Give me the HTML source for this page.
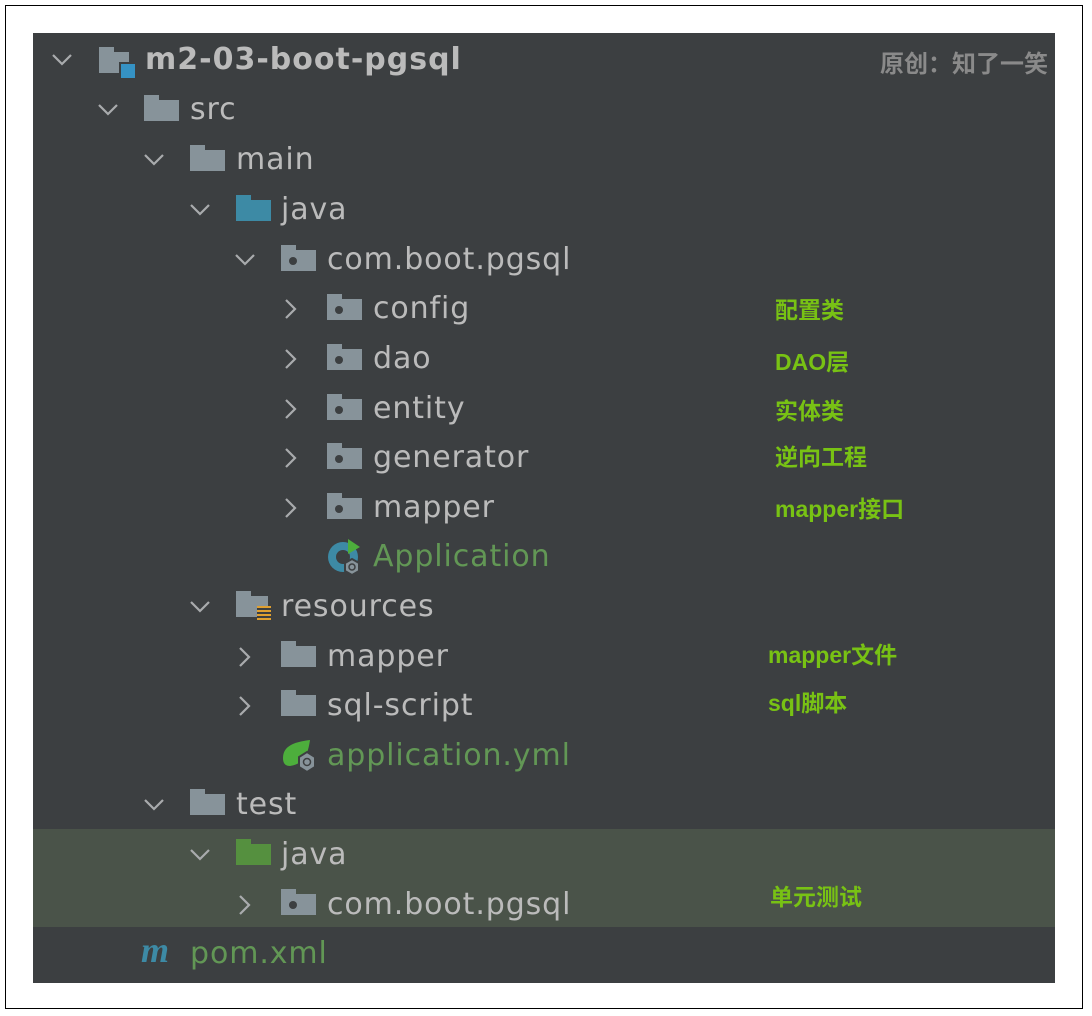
<!DOCTYPE html>
<html><head><meta charset="utf-8"><style>
body{margin:0;width:1092px;height:1016px;background:#fff;position:relative;overflow:hidden;font-family:"DejaVu Sans","Liberation Sans",sans-serif}
.frame{position:absolute;left:5px;top:5px;width:1078px;height:1004px;border:1.5px solid #000;box-sizing:border-box}
.panel{position:absolute;left:33px;top:33px;width:1022px;height:950px;background:#3c3f41}
.hl{position:absolute;left:33px;top:829px;width:1022px;height:98px;background:#4a5349}
.t{position:absolute;font-size:30px;color:#bbbbbb;line-height:40px;white-space:nowrap;letter-spacing:0.9px}
.g{color:#629755}
.f{position:absolute;width:35px;height:21px;background:#87939a}
.f:before{content:"";position:absolute;left:0;top:-5px;width:15px;height:6px;background:inherit}
.f.dot:after{content:"";position:absolute;left:8px;top:7px;width:8px;height:8px;border-radius:50%;background:#3c3f41}
.a{position:absolute;font-size:23px;font-weight:bold;color:#78c214;line-height:26px;font-family:"Liberation Sans","Noto Sans CJK SC",sans-serif;white-space:nowrap}
</style></head><body>
<div class="frame"></div>
<div class="panel"></div>
<div class="hl"></div>

<svg width="1092" height="1016" style="position:absolute;left:0;top:0" fill="none" stroke="#a9abad" stroke-width="2.2">
<polyline points="53,55 62,64 71,55"/>
<polyline points="99,105 108,114 117,105"/>
<polyline points="145,155 154,164 163,155"/>
<polyline points="191,205 200,214 209,205"/>
<polyline points="236,255 245,264 254,255"/>
<polyline points="191,602 200,611 209,602"/>
<polyline points="145,800 154,809 163,800"/>
<polyline points="191,850 200,859 209,850"/>
<polyline points="286,300 295,309 286,318"/>
<polyline points="286,350 295,359 286,368"/>
<polyline points="286,400 295,409 286,418"/>
<polyline points="286,449 295,458 286,467"/>
<polyline points="286,499 295,508 286,517"/>
<polyline points="240,648 249,657 240,666"/>
<polyline points="240,697 249,706 240,715"/>
<polyline points="240,896 249,905 240,914"/>
</svg>

<div class="f" style="left:99px;top:52px;width:30px"></div>
<div style="position:absolute;left:119px;top:62px;width:14px;height:14px;background:#3592c4;border:2px solid #3c3f41"></div>
<div class="t" style="left:145px;top:40px;font-weight:bold;letter-spacing:1px">m2-03-boot-pgsql</div>
<div style="position:absolute;left:880px;top:44px;font-size:24px;font-weight:bold;color:#8a8a8a;font-family:'Liberation Sans','Noto Sans CJK SC',sans-serif">原创：知了一笑</div>

<div class="f" style="left:144px;top:100px"></div>
<div class="t" style="left:190px;top:90px">src</div>

<div class="f" style="left:190px;top:150px"></div>
<div class="t" style="left:236px;top:140px">main</div>

<div class="f" style="left:236px;top:200px;background:#3d8aa5"></div>
<div class="t" style="left:281px;top:190px">java</div>

<div class="f dot" style="left:281px;top:250px"></div>
<div class="t" style="left:327px;top:240px">com.boot.pgsql</div>

<div class="f dot" style="left:327px;top:299px"></div>
<div class="t" style="left:373px;top:289px">config</div>
<div class="f dot" style="left:327px;top:349px"></div>
<div class="t" style="left:373px;top:339px">dao</div>
<div class="f dot" style="left:327px;top:399px"></div>
<div class="t" style="left:373px;top:389px">entity</div>
<div class="f dot" style="left:327px;top:448px"></div>
<div class="t" style="left:373px;top:438px">generator</div>
<div class="f dot" style="left:327px;top:498px"></div>
<div class="t" style="left:373px;top:488px">mapper</div>

<svg style="position:absolute;left:326px;top:535px" width="40" height="42">
<circle cx="17" cy="22" r="15" fill="#3d8aa5"/>
<circle cx="17" cy="22" r="7" fill="#3c3f41"/>
<polygon points="22,4 34,12 22,19" fill="#4dae3c"/>
<polygon points="26,24 33,28 33,36 26,40 19,36 19,28" fill="#87939a" stroke="#3c3f41" stroke-width="2"/>
<circle cx="26" cy="32" r="3" fill="none" stroke="#3c3f41" stroke-width="1.5"/>
</svg>
<div class="t g" style="left:373px;top:537px">Application</div>

<div class="f" style="left:236px;top:596px;width:32px"></div>
<div style="position:absolute;left:257px;top:606px;width:14px;height:16px;background:repeating-linear-gradient(#e0a030 0 2px,#3c3f41 2px 4px)"></div>
<div class="t" style="left:281px;top:587px">resources</div>

<div class="f" style="left:281px;top:646px"></div>
<div class="t" style="left:327px;top:637px">mapper</div>
<div class="f" style="left:281px;top:695px"></div>
<div class="t" style="left:327px;top:686px">sql-script</div>

<svg style="position:absolute;left:280px;top:736px" width="40" height="40">
<path d="M3,22 C3,10 14,6 30,4 C28,18 24,28 10,30 C5,30 3,27 3,22Z" fill="#4dae3c"/>
<polygon points="27,16 35,21 35,31 27,36 19,31 19,21" fill="#87939a" stroke="#3c3f41" stroke-width="2"/>
<circle cx="27" cy="26" r="3.5" fill="none" stroke="#3c3f41" stroke-width="1.5"/>
</svg>
<div class="t g" style="left:327px;top:736px">application.yml</div>

<div class="f" style="left:190px;top:794px"></div>
<div class="t" style="left:236px;top:785px">test</div>

<div class="f" style="left:236px;top:844px;background:#55903f"></div>
<div class="t" style="left:281px;top:835px">java</div>

<div class="f dot" style="left:281px;top:894px"></div>
<div class="t" style="left:327px;top:885px">com.boot.pgsql</div>

<div style="position:absolute;left:141px;top:930px;font-size:36px;font-weight:bold;font-style:italic;color:#3d8aa5;font-family:'Liberation Serif',serif;line-height:40px">m</div>
<div class="t g" style="left:190px;top:934px">pom.xml</div>

<div class="a" style="left:775px;top:297px">配置类</div>
<div class="a" style="left:775px;top:349px">DAO层</div>
<div class="a" style="left:775px;top:398px">实体类</div>
<div class="a" style="left:775px;top:444px">逆向工程</div>
<div class="a" style="left:775px;top:496px">mapper接口</div>
<div class="a" style="left:768px;top:642px">mapper文件</div>
<div class="a" style="left:768px;top:690px">sql脚本</div>
<div class="a" style="left:770px;top:884px">单元测试</div>
</body></html>
